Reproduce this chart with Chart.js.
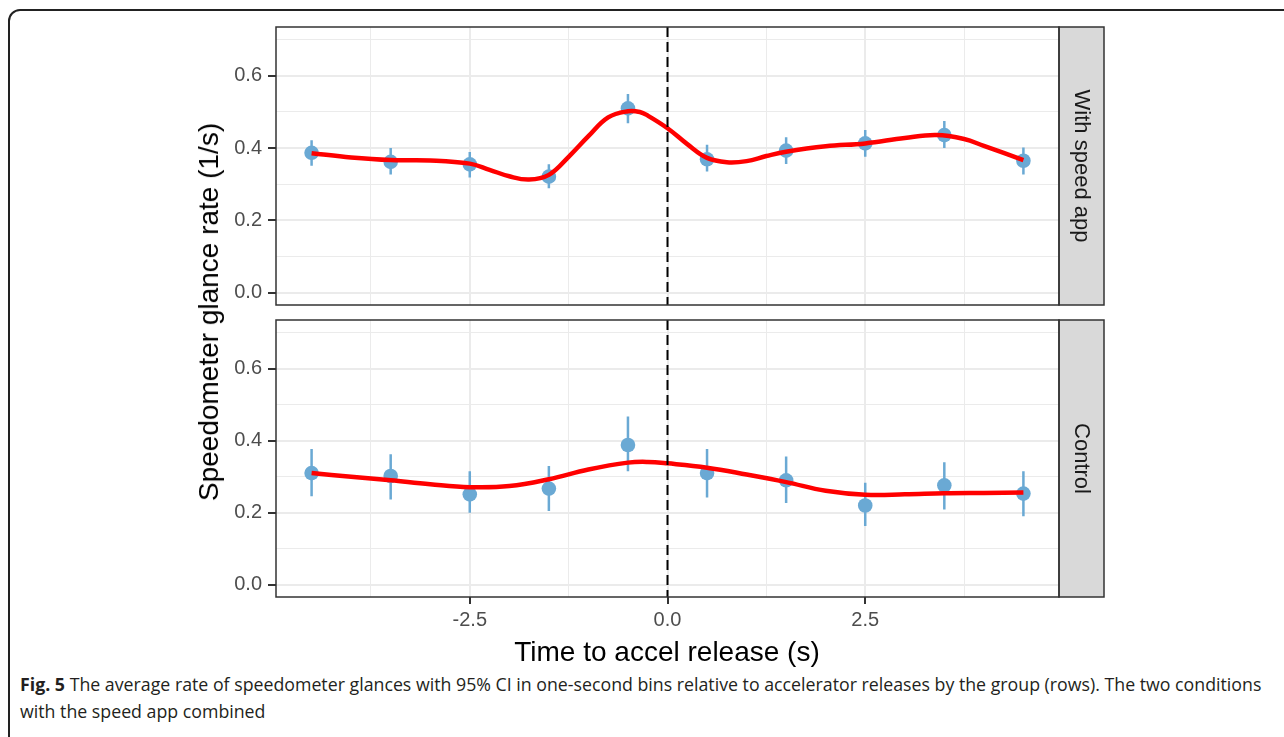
<!DOCTYPE html>
<html><head><meta charset="utf-8">
<script src="https://cdn.jsdelivr.net/npm/chart.js@4.4.1/dist/chart.umd.min.js"></script>
<style>
html,body{margin:0;padding:0;background:#fff;}
body{width:1284px;height:737px;position:relative;overflow:hidden;font-family:"Liberation Sans",Arial,sans-serif;}
#frame{position:absolute;left:8px;top:9px;width:1320px;height:800px;border:2px solid #222;border-top-left-radius:12px;box-sizing:border-box;}
canvas{position:absolute;left:0;}
#c1{top:0;}
#c2{top:290px;}
#ytitle{position:absolute;left:209px;top:312px;transform:translate(-50%,-50%) rotate(-90deg);font-size:28px;color:#000;white-space:nowrap;line-height:1;}
#xtitle{position:absolute;left:667px;top:652px;transform:translate(-50%,-50%);font-size:28px;color:#000;white-space:nowrap;line-height:1;}
.cap{position:absolute;left:20px;font-family:"Open Sans",sans-serif;color:#231f20;white-space:nowrap;line-height:24px;font-size:17.5px;}
</style></head>
<body>
<div id="frame"></div>
<canvas id="c1" width="1284" height="345"></canvas>
<canvas id="c2" width="1284" height="350"></canvas>
<div id="ytitle">Speedometer glance rate (1/s)</div>
<div id="xtitle">Time to accel release (s)</div>
<div class="cap" id="cap1" style="top:672px;"><b>Fig. 5</b> The average rate of speedometer glances with 95% CI in one-second bins relative to accelerator releases by the group (rows). The two conditions</div>
<div class="cap" id="cap2" style="top:699px;">with the speed app combined</div>
<script>
// ---- data ----
const xBins = [-4.5,-3.5,-2.5,-1.5,-0.5,0.5,1.5,2.5,3.5,4.5];
const appMean = [0.387,0.362,0.355,0.321,0.510,0.369,0.393,0.413,0.436,0.365];
const appLow  = [0.351,0.327,0.319,0.289,0.469,0.335,0.356,0.376,0.400,0.327];
const appHigh = [0.422,0.400,0.389,0.355,0.550,0.409,0.430,0.450,0.475,0.402];
const ctlMean = [0.310,0.302,0.251,0.267,0.388,0.310,0.290,0.220,0.276,0.253];
const ctlLow  = [0.246,0.237,0.200,0.205,0.315,0.242,0.227,0.163,0.209,0.190];
const ctlHigh = [0.377,0.362,0.315,0.330,0.467,0.377,0.356,0.283,0.340,0.315];
const appSmoothX = [-4.5,-4,-3.5,-3,-2.5,-2.25,-2,-1.75,-1.5,-1.25,-1,-0.75,-0.5,-0.35,-0.25,0,0.25,0.5,0.75,1,1.25,1.5,2,2.5,3,3.4,3.75,4,4.5];
const appSmoothY = [0.386,0.374,0.367,0.366,0.357,0.340,0.322,0.313,0.326,0.376,0.433,0.485,0.502,0.500,0.490,0.455,0.411,0.373,0.361,0.364,0.378,0.390,0.405,0.413,0.428,0.436,0.425,0.406,0.367];
const ctlSmoothX = [-4.5,-4,-3.5,-3,-2.5,-2,-1.5,-1,-0.5,-0.25,0,0.5,1,1.5,2,2.5,3,3.5,4,4.5];
const ctlSmoothY = [0.310,0.300,0.290,0.279,0.271,0.274,0.293,0.320,0.339,0.341,0.337,0.325,0.306,0.285,0.261,0.250,0.251,0.254,0.255,0.256];
const panelNames = ['With speed app','Control'];
const refLineX = [0];
const yTickVals = [0,0.1,0.2,0.3,0.4,0.5,0.6,0.7];
const yMajorVals = [0,0.2,0.4,0.6];
const yTickLabels = ['0.0','0.2','0.4','0.6'];
const xTickVals = [-3.75,-2.5,-1.25,0,1.25,2.5,3.75];
const xMajorVals = [-2.5,0,2.5];
const xTickLabels = ['-2.5','0.0','2.5'];
const Y_MIN = -0.034, Y_MAX = 0.735, X_MIN = -4.95, X_MAX = 4.95;

// ---- drawing ----
Chart.defaults.font.family = '"Liberation Sans", Arial, sans-serif';
const idx = (arr, v) => arr.findIndex(m => Math.abs(m - v) < 1e-9);
const PT = '#6aa9d4';

function decor(name){
  return {
    id: 'decor',
    afterDatasetsDraw(chart){
      const {ctx, chartArea:a, scales:{x}} = chart;
      ctx.save();
      ctx.beginPath(); ctx.rect(a.left, a.top, a.right-a.left, a.bottom-a.top); ctx.clip();
      ctx.setLineDash([10,5]); ctx.lineWidth = 2; ctx.strokeStyle = '#000';
      refLineX.forEach(v => {
        const px = x.getPixelForValue(v);
        ctx.beginPath(); ctx.moveTo(px, a.top); ctx.lineTo(px, a.bottom); ctx.stroke();
      });
      ctx.restore();
    },
    afterDraw(chart){
      const {ctx, chartArea:a} = chart;
      ctx.save();
      ctx.fillStyle = '#d9d9d9';
      ctx.fillRect(a.right, a.top, 45, a.bottom-a.top);
      ctx.strokeStyle = '#333'; ctx.lineWidth = 1.5;
      ctx.strokeRect(a.left, a.top, a.right-a.left, a.bottom-a.top);
      ctx.strokeRect(a.right, a.top, 45, a.bottom-a.top);
      ctx.translate(a.right + 22.5, (a.top + a.bottom)/2);
      ctx.rotate(Math.PI/2);
      ctx.fillStyle = '#1a1a1a';
      ctx.font = '22px "Liberation Sans", Arial, sans-serif';
      ctx.textAlign = 'center'; ctx.textBaseline = 'middle';
      ctx.fillText(name, 0, 0);
      ctx.restore();
    }
  };
}

function makePanel(id, name, mean, lo, hi, sx, sy, showX, padTop, padBottom, xHeight){
  const err = [];
  xBins.forEach((x,i) => { err.push({x, y: lo[i]}, {x, y: hi[i]}, {x, y: null}); });
  return new Chart(document.getElementById(id), {
    type: 'scatter',
    data: { datasets: [
      { type:'line', data: sx.map((x,i)=>({x, y: sy[i]})), borderColor:'#ff0000', borderWidth:4.5,
        pointRadius:0, tension:0.4, borderCapStyle:'butt', order:0 },
      { type:'scatter', data: xBins.map((x,i)=>({x, y: mean[i]})), backgroundColor:PT, borderWidth:0,
        pointRadius:7.3, order:1 },
      { type:'line', data: err, borderColor:PT, borderWidth:2.5, pointRadius:0, spanGaps:false, order:2 }
    ]},
    options: {
      responsive:false, animation:false, devicePixelRatio:1, events:[],
      layout:{ padding:{ left:0, right:225, top:padTop, bottom:padBottom } },
      plugins:{ legend:{display:false}, tooltip:{enabled:false} },
      scales:{
        x:{ type:'linear', min:X_MIN, max:X_MAX,
          afterBuildTicks(s){ s.ticks = xTickVals.map(v=>({value:v})); },
          afterFit(s){ s.height = xHeight; },
          border:{display:false},
          grid:{ color:'#ebebeb', lineWidth:(c)=> idx(xMajorVals, c.tick ? c.tick.value : 0) >= 0 ? 2 : 1,
                 drawTicks: showX, tickLength:7,
                 tickColor:(c)=> idx(xMajorVals, c.tick ? c.tick.value : 99) >= 0 ? '#333' : 'rgba(0,0,0,0)', tickWidth:2 },
          ticks:{ display: showX, autoSkip:false, maxRotation:0, padding:4, color:'#4d4d4d', font:{size:20},
                  callback:(v)=>{ const k = idx(xMajorVals, v); return k >= 0 ? xTickLabels[k] : ''; } }
        },
        y:{ type:'linear', min:Y_MIN, max:Y_MAX,
          afterBuildTicks(s){ s.ticks = yTickVals.map(v=>({value:v})); },
          afterFit(s){ s.width = 276; },
          border:{display:false},
          grid:{ color:'#ebebeb', lineWidth:(c)=> idx(yMajorVals, c.tick ? c.tick.value : 0) >= 0 ? 2 : 1,
                 drawTicks:true, tickLength:8,
                 tickColor:(c)=> idx(yMajorVals, c.tick ? c.tick.value : 99) >= 0 ? '#333' : 'rgba(0,0,0,0)', tickWidth:2 },
          ticks:{ autoSkip:false, padding:6, color:'#4d4d4d', font:{size:20},
                  callback:(v)=>{ const k = idx(yMajorVals, v); return k >= 0 ? yTickLabels[k] : ''; } }
        }
      }
    },
    plugins:[decor(name)]
  });
}

function fitArea(chart, canvasTop, top, bottom){
  for (let k = 0; k < 4; k++){
    const a = chart.chartArea;
    const p = chart.options.layout.padding;
    const dt = (top - canvasTop) - a.top;
    const db = a.bottom - (bottom - canvasTop);
    if (Math.abs(dt) < 0.5 && Math.abs(db) < 0.5) break;
    p.top += dt; p.bottom += db;
    chart.update('none');
  }
}

const ch1 = makePanel('c1', panelNames[0], appMean, appLow, appHigh, appSmoothX, appSmoothY, false, 27, 40, 0);
const ch2 = makePanel('c2', panelNames[1], ctlMean, ctlLow, ctlHigh, ctlSmoothX, ctlSmoothY, true, 30, 0, 43);
fitArea(ch1, 0, 27, 305);
fitArea(ch2, 290, 320, 597);

// fit caption width
const c1 = document.getElementById('cap1'), c2 = document.getElementById('cap2');
const w = c1.getBoundingClientRect().width;
const fs = 17.5 * 1242 / w;
c1.style.fontSize = fs + 'px'; c2.style.fontSize = fs + 'px';
</script>
</body></html>
